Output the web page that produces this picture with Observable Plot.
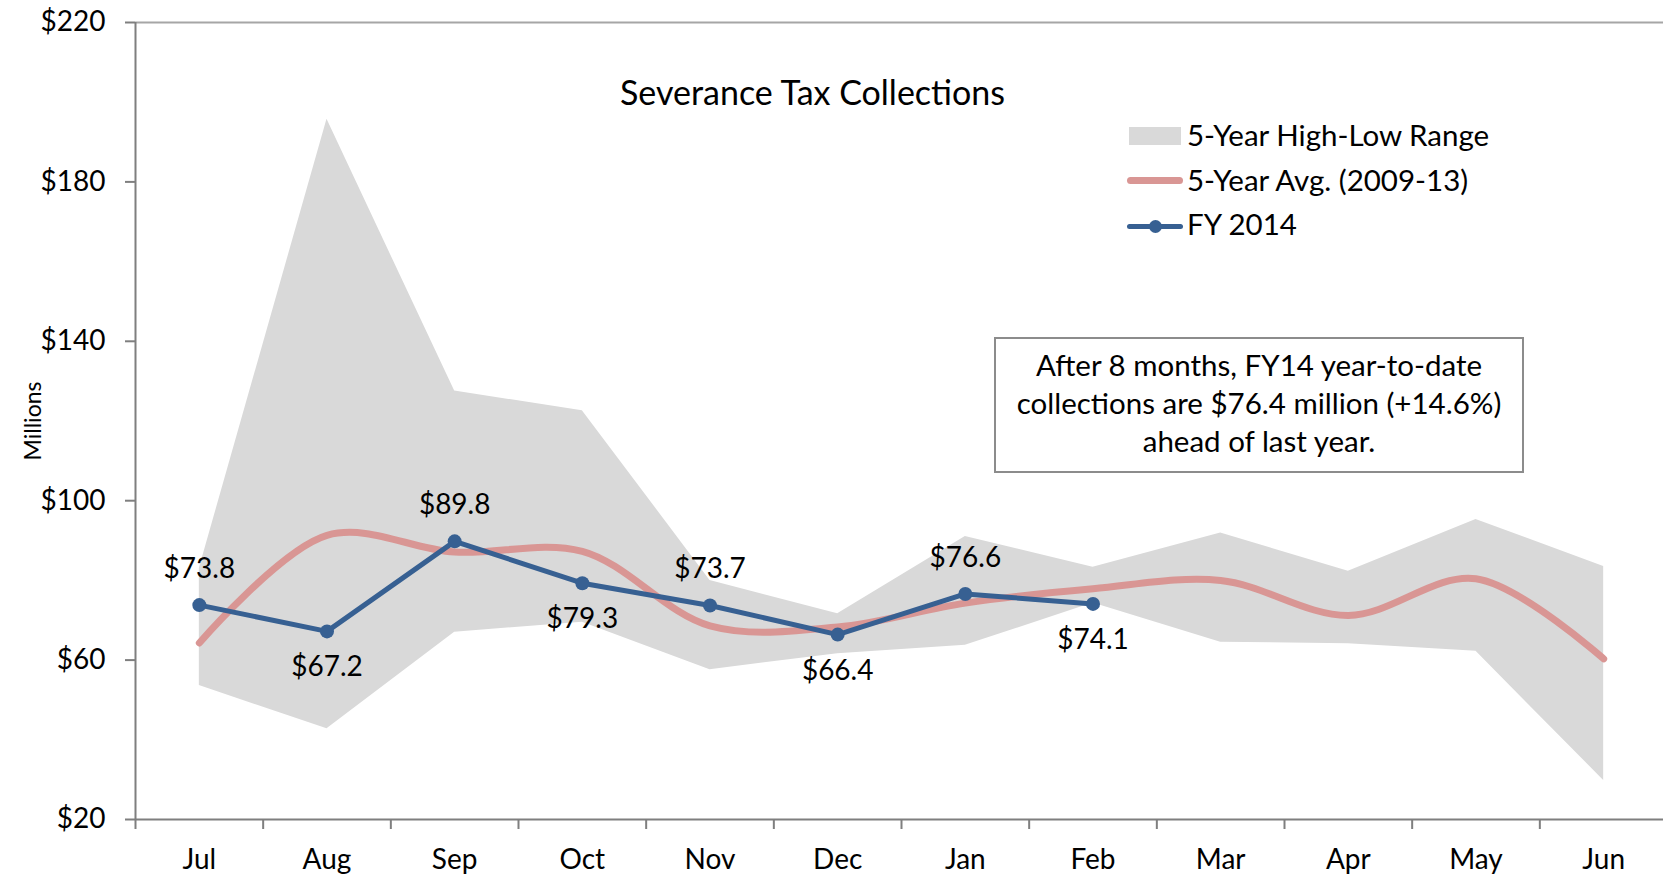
<!DOCTYPE html>
<html><head><meta charset="utf-8">
<script src="https://cdn.jsdelivr.net/npm/d3@7"></script>
<script src="https://cdn.jsdelivr.net/npm/@observablehq/plot@0.6"></script>
<style>
body{margin:0;background:#fff;font-family:Lato, "Noto Sans", sans-serif;color:#000;}
#wrap{position:relative;width:1663px;height:878px;overflow:hidden;}
#wrap svg{position:absolute;left:0;top:0;}
.ov{position:absolute;white-space:nowrap;line-height:1;}
</style></head><body><div id="wrap"></div>
<script>
const months = ["Jul","Aug","Sep","Oct","Nov","Dec","Jan","Feb","Mar","Apr","May","Jun"];
const rangeHigh = [83, 195.7, 127.5, 122.6, 80, 71.6, 91, 83.3, 91.9, 82.3, 95.3, 83.5];
const rangeLow  = [53.6, 42.8, 67, 69.5, 57.6, 61.6, 63.7, 74.3, 64.5, 64.1, 62.2, 29.8];
const avg5yr    = [64.3, 91.3, 87.1, 87.3, 68.6, 68.3, 74.3, 77.9, 80, 71.2, 80.4, 60.3];
const fy2014    = [73.8, 67.2, 89.8, 79.3, 73.7, 66.4, 76.6, 74.1];
const labelSide = ["above","below","above","below","above","below","above","below"];
const yTicks = [20, 60, 100, 140, 180, 220];
const titleText = "Severance Tax Collections";
const legendItems = ["5-Year High-Low Range", "5-Year Avg. (2009-13)", "FY 2014"];
const noteLines = ["After 8 months, FY14 year-to-date", "collections are $76.4 million (+14.6%)", "ahead of last year."];

const band = months.map((m, i) => ({i, low: rangeLow[i], high: rangeHigh[i]}));
const avgData = months.map((m, i) => ({i, v: avg5yr[i]}));
const fyData = fy2014.map((v, i) => ({i, v, side: labelSide[i]}));
const boundaries = d3.range(months.length + 1).map(i => i - 0.5);

const FS = 28, FS2 = 29.5;
const chart = Plot.plot({
  width: 1663, height: 878,
  marginLeft: 135, marginTop: 22, marginBottom: 59, marginRight: 0,
  style: {fontFamily: "Lato, 'Noto Sans', sans-serif", fontSize: FS + "px", background: "white", color: "black"},
  x: {type: "linear", domain: [-0.5, months.length - 0.5], range: [135, 1667]},
  y: {domain: [20, 220]},
  marks: [
    Plot.areaY(band, {x: "i", y1: "low", y2: "high", fill: "#d9d9d9"}),
    Plot.ruleY([220], {stroke: "#a6a6a6", strokeWidth: 2}),
    Plot.lineY(avgData, {x: "i", y: "v", curve: "catmull-rom", stroke: "#d99694", strokeWidth: 7, strokeLinecap: "round"}),
    Plot.lineY(fyData, {x: "i", y: "v", stroke: "#376092", strokeWidth: 5}),
    Plot.dot(fyData, {x: "i", y: "v", r: 7, fill: "#376092"}),
    Plot.text(fyData.filter(d => d.side === "above"), {x: "i", y: "v", text: d => "$" + d.v.toFixed(1), dy: -36, fontSize: FS, fill: "black"}),
    Plot.text(fyData.filter(d => d.side === "below"), {x: "i", y: "v", text: d => "$" + d.v.toFixed(1), dy: 36, fontSize: FS, fill: "black"}),
    Plot.ruleX([-0.5], {stroke: "#7f7f7f", strokeWidth: 2}),
    Plot.ruleY([20], {stroke: "#7f7f7f", strokeWidth: 2}),
    Plot.axisY({ticks: yTicks, tickFormat: d => "$" + d, tickSize: 10, tickPadding: 20, stroke: "#7f7f7f", strokeWidth: 2, fill: "black", label: "Millions", labelAnchor: "center", labelOffset: 111, labelArrow: "none", fontSize: FS}),
    Plot.axisX({ticks: boundaries, tickFormat: () => "", tickSize: 10, stroke: "#7f7f7f", strokeWidth: 2, label: null}),
    Plot.axisX({ticks: d3.range(months.length), tickFormat: i => months[i], tickSize: 0, tickPadding: 30, fill: "black", label: null, fontSize: FS})
  ]
});
const wrap = document.getElementById("wrap");
wrap.appendChild(chart);
chart.querySelectorAll("[aria-label='y-axis label'] text").forEach(t => t.setAttribute("font-size", "23"));

function ov(html, css) {
  const d = document.createElement("div");
  d.className = "ov";
  d.innerHTML = html;
  Object.assign(d.style, css);
  wrap.appendChild(d);
  return d;
}
// title
ov(titleText, {left: "0px", width: "1625px", textAlign: "center", top: (93 - 0.53 * 34) + "px", fontSize: "34px"});
// legend
ov("", {left: "1129px", top: "127px", width: "52px", height: "18px", background: "#d9d9d9"});
ov("", {left: "1127px", top: "177px", width: "56px", height: "7px", background: "#d99694", borderRadius: "4px"});
ov("", {left: "1127px", top: "224px", width: "56px", height: "5px", background: "#376092", borderRadius: "3px"});
ov("", {left: "1148.5px", top: "220px", width: "13px", height: "13px", background: "#376092", borderRadius: "50%"});
[136, 181, 225].forEach((c, k) => ov(legendItems[k], {left: "1187px", top: (c - 0.53 * FS2) + "px", fontSize: FS2 + "px"}));
// note box
ov("", {left: "994px", top: "337px", width: "530px", height: "136px", border: "2px solid #8c8c8c", boxSizing: "border-box", background: "white"});
[366, 404, 442].forEach((c, k) => ov(noteLines[k], {left: "994px", width: "530px", textAlign: "center", top: (c - 0.53 * FS2) + "px", fontSize: FS2 + "px"}));
</script></body></html>
